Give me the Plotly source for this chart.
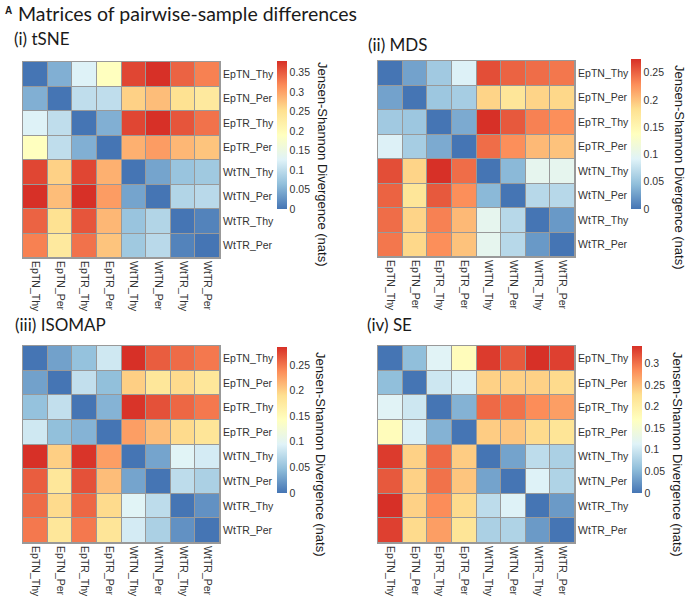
import plotly.graph_objects as go

samples = ["EpTN_Thy", "EpTN_Per", "EpTR_Thy", "EpTR_Per",
           "WtTN_Thy", "WtTN_Per", "WtTR_Thy", "WtTR_Per"]

tsne = [
    [0.000, 0.050, 0.125, 0.190, 0.365, 0.380, 0.345, 0.325],
    [0.050, 0.000, 0.100, 0.100, 0.265, 0.280, 0.250, 0.235],
    [0.125, 0.100, 0.000, 0.050, 0.365, 0.380, 0.355, 0.335],
    [0.190, 0.100, 0.050, 0.000, 0.290, 0.305, 0.285, 0.275],
    [0.365, 0.265, 0.365, 0.290, 0.000, 0.040, 0.070, 0.075],
    [0.380, 0.280, 0.380, 0.305, 0.040, 0.000, 0.090, 0.095],
    [0.345, 0.250, 0.355, 0.285, 0.070, 0.090, 0.000, 0.012],
    [0.325, 0.235, 0.335, 0.275, 0.075, 0.095, 0.012, 0.000],
]

mds = [
    [0.000, 0.028, 0.055, 0.090, 0.260, 0.250, 0.245, 0.240],
    [0.028, 0.000, 0.053, 0.058, 0.190, 0.175, 0.190, 0.188],
    [0.055, 0.053, 0.000, 0.033, 0.275, 0.255, 0.235, 0.228],
    [0.090, 0.058, 0.033, 0.000, 0.245, 0.228, 0.205, 0.200],
    [0.260, 0.190, 0.275, 0.245, 0.000, 0.042, 0.100, 0.100],
    [0.250, 0.175, 0.255, 0.228, 0.042, 0.000, 0.068, 0.068],
    [0.245, 0.190, 0.235, 0.205, 0.100, 0.068, 0.000, 0.022],
    [0.240, 0.188, 0.228, 0.200, 0.100, 0.068, 0.022, 0.000],
]

isomap = [
    [0.000, 0.028, 0.050, 0.085, 0.285, 0.262, 0.255, 0.248],
    [0.028, 0.000, 0.077, 0.048, 0.200, 0.180, 0.193, 0.180],
    [0.050, 0.077, 0.000, 0.040, 0.283, 0.268, 0.257, 0.248],
    [0.085, 0.048, 0.040, 0.000, 0.228, 0.210, 0.193, 0.182],
    [0.285, 0.200, 0.283, 0.228, 0.000, 0.030, 0.097, 0.088],
    [0.262, 0.180, 0.268, 0.210, 0.030, 0.000, 0.074, 0.063],
    [0.255, 0.193, 0.257, 0.193, 0.097, 0.074, 0.000, 0.018],
    [0.248, 0.180, 0.248, 0.182, 0.088, 0.063, 0.018, 0.000],
]

se = [
    [0.000, 0.057, 0.115, 0.175, 0.333, 0.315, 0.340, 0.330],
    [0.057, 0.000, 0.100, 0.110, 0.237, 0.237, 0.237, 0.230],
    [0.115, 0.100, 0.000, 0.047, 0.305, 0.300, 0.283, 0.272],
    [0.175, 0.110, 0.047, 0.000, 0.240, 0.245, 0.230, 0.218],
    [0.333, 0.237, 0.305, 0.240, 0.000, 0.035, 0.088, 0.075],
    [0.315, 0.237, 0.300, 0.245, 0.035, 0.000, 0.112, 0.078],
    [0.340, 0.237, 0.283, 0.230, 0.088, 0.112, 0.000, 0.028],
    [0.330, 0.230, 0.272, 0.218, 0.075, 0.078, 0.028, 0.000],
]

panel_titles = ["(i) tSNE", "(ii) MDS", "(iii) ISOMAP", "(iv) SE"]
cbar_ticks = [
    [0, 0.05, 0.1, 0.15, 0.2, 0.25, 0.3, 0.35],
    [0, 0.05, 0.1, 0.15, 0.2, 0.25],
    [0, 0.05, 0.1, 0.15, 0.2, 0.25],
    [0, 0.05, 0.1, 0.15, 0.2, 0.25, 0.3],
]
cbar_title = "Jensen-Shannon Divergence (nats)"
main_title = "Matrices of pairwise-sample differences"

W, H = 688, 597
def px(x):
    return x / W
def py(y):
    return 1 - y / H

colorscale = [[0, "#4575B4"], [1/6, "#91BFDB"], [2/6, "#E0F3F8"], [0.5, "#FFFFBF"],
              [4/6, "#FEE090"], [5/6, "#FC8D59"], [1, "#D73027"]]

# layout geometry (pixels): heatmap box, colorbar box, title pos, cbar title pos
geom = [
    dict(hx=(23, 220), hy=(62, 258), cx=277, cy=(61, 209), tx=12, ty=38, ax=322, ay=164),
    dict(hx=(378, 575), hy=(61, 257), cx=631, cy=(59, 209), tx=366, ty=45, ax=680, ay=167),
    dict(hx=(23, 220), hy=(346, 543), cx=277, cy=(347, 493), tx=13, ty=325, ax=321, ay=454),
    dict(hx=(378, 575), hy=(346, 543), cx=632, cy=(346, 493), tx=365, ty=324, ax=678, ay=454),
]

mats = [tsne, mds, isomap, se]
tickfont = dict(family="Liberation Sans, Arial", size=10.5, color="#333333")
fig = go.Figure()
annotations = []
for i, (m, g) in enumerate(zip(mats, geom)):
    n = "" if i == 0 else str(i + 1)
    zmax = max(max(r) for r in m)
    fig.add_trace(go.Heatmap(
        z=m, x=samples, y=samples, xaxis="x" + n, yaxis="y" + n,
        colorscale=colorscale, zmin=0, zmax=zmax, xgap=1, ygap=1,
        colorbar=dict(
            x=px(g["cx"]), xanchor="left", xref="paper",
            y=py(g["cy"][0]), yanchor="top", yref="paper",
            len=g["cy"][1] - g["cy"][0], lenmode="pixels",
            thickness=10, thicknessmode="pixels",
            outlinewidth=0, ticks="", tickvals=cbar_ticks[i],
            ticktext=[("%g" % t) for t in cbar_ticks[i]],
            tickfont=tickfont, ypad=0, xpad=0,
        ),
    ))
    fig.layout["xaxis" + n] = dict(
        domain=[px(g["hx"][0]), px(g["hx"][1])], anchor="y" + n,
        tickangle=90, tickfont=tickfont, ticks="", showgrid=False, zeroline=False,
        showline=True, mirror=True, linecolor="#999999", linewidth=1,
    )
    fig.layout["yaxis" + n] = dict(
        domain=[py(g["hy"][1]), py(g["hy"][0])], anchor="x" + n, side="right",
        autorange="reversed", tickfont=tickfont, ticks="", showgrid=False, zeroline=False,
        showline=True, mirror=True, linecolor="#999999", linewidth=1,
    )
    annotations.append(dict(
        text=panel_titles[i], x=px(g["tx"]), y=py(g["ty"]), xref="paper", yref="paper",
        xanchor="left", yanchor="middle", showarrow=False,
        font=dict(family="Lato, Noto Sans", size=17, color="#1a1a1a"),
    ))
    annotations.append(dict(
        text=cbar_title, x=px(g["ax"]), y=py(g["ay"]), xref="paper", yref="paper",
        xanchor="center", yanchor="middle", showarrow=False, textangle=90,
        font=dict(family="Liberation Sans, Arial", size=13, color="#1a1a1a"),
    ))

annotations.append(dict(
    text="<b>A</b>", x=px(3), y=py(10), xref="paper", yref="paper",
    xanchor="left", yanchor="middle", showarrow=False,
    font=dict(family="Liberation Sans, Arial", size=10, color="#1a1a1a"),
))
annotations.append(dict(
    text=main_title, x=px(16), y=py(13), xref="paper", yref="paper",
    xanchor="left", yanchor="middle", showarrow=False,
    font=dict(family="Lato, Noto Sans", size=19.5, color="#1a1a1a"),
))

fig.update_layout(
    width=W, height=H, margin=dict(l=0, r=0, t=0, b=0),
    paper_bgcolor="white", plot_bgcolor="#999999",
    annotations=annotations, showlegend=False,
)
fig.write_html("out.html", config={"displayModeBar": False},
               post_script="document.body.style.margin='0px';document.body.style.overflow='hidden';")
